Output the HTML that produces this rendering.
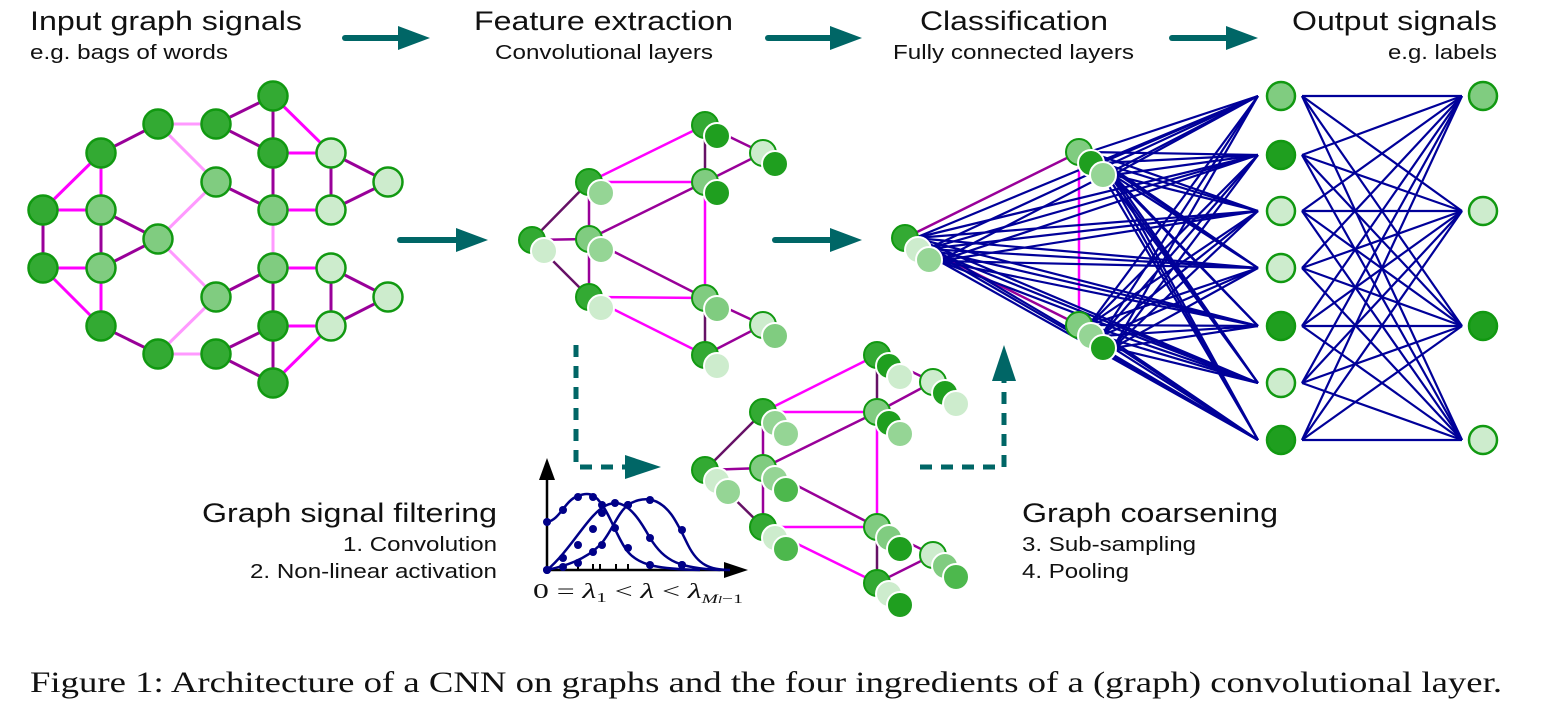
<!DOCTYPE html>
<html><head><meta charset="utf-8"><style>
html,body{margin:0;padding:0;background:#fff;}
svg{display:block;}
text{font-family:"Liberation Sans",sans-serif;fill:#111;}
</style></head><body>
<svg id="s" width="1557" height="704" viewBox="0 0 1557 704" xmlns="http://www.w3.org/2000/svg">
<defs>
<marker id="ah" markerWidth="10" markerHeight="10" refX="0" refY="5" orient="auto" markerUnits="userSpaceOnUse"></marker>
</defs>
<g id="edges"></g>
<g id="nodes"></g>
<g id="arrows" fill="#006666" stroke="#006666"></g>
<g id="chart"></g>
<text x="30" y="30" font-size="27" textLength="272" lengthAdjust="spacingAndGlyphs">Input graph signals</text>
<text x="30" y="59" font-size="20" textLength="198" lengthAdjust="spacingAndGlyphs">e.g. bags of words</text>
<text x="474" y="30" font-size="27" textLength="259" lengthAdjust="spacingAndGlyphs">Feature extraction</text>
<text x="495" y="59" font-size="20" textLength="218" lengthAdjust="spacingAndGlyphs">Convolutional layers</text>
<text x="920" y="30" font-size="27" textLength="188" lengthAdjust="spacingAndGlyphs">Classification</text>
<text x="893" y="59" font-size="20" textLength="241" lengthAdjust="spacingAndGlyphs">Fully connected layers</text>
<text x="1292" y="30" font-size="27" textLength="205" lengthAdjust="spacingAndGlyphs">Output signals</text>
<text x="1388" y="59" font-size="20" textLength="109" lengthAdjust="spacingAndGlyphs">e.g. labels</text>
<text x="202" y="522" font-size="27" textLength="295" lengthAdjust="spacingAndGlyphs">Graph signal filtering</text>
<text x="343" y="551" font-size="20" textLength="154" lengthAdjust="spacingAndGlyphs">1. Convolution</text>
<text x="250" y="578" font-size="20" textLength="247" lengthAdjust="spacingAndGlyphs">2. Non-linear activation</text>
<text x="1022" y="522" font-size="27" textLength="256" lengthAdjust="spacingAndGlyphs">Graph coarsening</text>
<text x="1022" y="551" font-size="20" textLength="174" lengthAdjust="spacingAndGlyphs">3. Sub-sampling</text>
<text x="1022" y="578" font-size="20" textLength="107" lengthAdjust="spacingAndGlyphs">4. Pooling</text>
<text x="533" y="598" font-size="21" style="font-family:'Liberation Serif',serif" font-style="italic" textLength="210" lengthAdjust="spacingAndGlyphs"><tspan font-style="normal">0 = </tspan>λ<tspan font-size="14" font-style="normal" dy="4">1</tspan><tspan dy="-4" font-style="normal"> &lt; </tspan>λ<tspan font-style="normal"> &lt; </tspan>λ<tspan font-size="13" dy="5">M<tspan font-size="10">l</tspan><tspan font-style="normal">−1</tspan></tspan></text>
<text x="30" y="692" font-size="30" style="font-family:'Liberation Serif',serif" textLength="1472" lengthAdjust="spacingAndGlyphs">Figure 1: Architecture of a CNN on graphs and the four ingredients of a (graph) convolutional layer.</text>
</svg>
<script>
var NS="http://www.w3.org/2000/svg";
function el(p,t,a){var e=document.createElementNS(NS,t);for(var k in a)e.setAttribute(k,a[k]);document.getElementById(p).appendChild(e);return e;}
var DK="#33aa33",MD="#80cc80",LT="#cdeccd",DD="#1f9f1f",M2="#95d595",M3="#4db84d";
var MAG="#ff00ff",PUR="#990099",PNK="#ff99ff",DPU="#661166";
function line(x1,y1,x2,y2,c,w){el("edges","line",{x1:x1,y1:y1,x2:x2,y2:y2,stroke:c,"stroke-width":w||3});}
// input graph
var N={A:[43,210,DK],B:[43,268,DK],C:[101,153,DK],D:[101,210,MD],E:[101,268,MD],F:[101,326,DK],G:[158,124,DK],H:[158,239,MD],I:[158,354,DK],J:[216,124,DK],K:[216,182,MD],L:[216,297,MD],M:[216,354,DK],NN:[273,96,DK],O:[273,153,DK],P:[273,210,MD],Q:[273,268,MD],R:[273,326,DK],S:[273,383,DK],T:[331,153,LT],U:[331,210,LT],V:[388,182,LT],W:[331,268,LT],X:[331,326,LT],Y:[388,297,LT]};
var E=[["A","C",MAG],["A","D",MAG],["A","B",PUR],["B","E",MAG],["B","F",MAG],["C","D",MAG],["C","G",PUR],["D","E",PUR],["D","H",PUR],["E","H",PUR],["E","F",MAG],["F","I",PUR],["G","J",PNK],["G","K",PNK],["H","K",PNK],["H","L",PNK],["I","M",PNK],["I","L",PNK],["J","NN",PUR],["J","O",PUR],["NN","O",PUR],["NN","T",MAG],["O","T",MAG],["O","P",PUR],["K","P",PUR],["P","U",MAG],["T","U",PUR],["T","V",PUR],["U","V",PUR],["P","Q",PNK],["Q","L",PUR],["Q","W",MAG],["Q","R",PUR],["W","Y",PUR],["W","X",PUR],["X","Y",PUR],["R","X",MAG],["R","M",PUR],["R","S",PUR],["M","S",PUR],["S","X",MAG]];
E.forEach(function(e){var a=N[e[0]],b=N[e[1]];line(a[0],a[1],b[0],b[1],e[2],3);});
for(var k in N){var n=N[k];el("nodes","circle",{cx:n[0],cy:n[1],r:14.5,fill:n[2],stroke:"#119911","stroke-width":2.5});}
// multi nodes
function multi(x,y,cols,offs){cols.forEach(function(c,i){var o=offs[i];el("nodes","circle",{cx:x+o[0],cy:y+o[1],r:13,fill:c,stroke:i==0?"#119911":"#fff","stroke-width":2});});}
var O2=[[0,0],[12,11]];
var F={a:[532,240,[DK,LT]],b:[589,182,[DK,M2]],c:[589,239,[MD,M2]],d:[589,297,[DK,LT]],e:[705,125,[DK,DD]],f:[705,182,[MD,DD]],g:[705,298,[MD,MD]],h:[705,355,[DK,LT]],i:[763,153,[LT,DD]],j:[763,325,[LT,MD]]};
var FE=[["a","b",DPU],["a","c",PUR],["a","d",DPU],["b","c",PUR],["c","d",PUR],["b","e",MAG],["b","f",MAG],["c","f",PUR],["c","g",PUR],["d","g",MAG],["d","h",MAG],["e","f",DPU],["f","g",MAG],["e","i",PUR],["f","i",PUR],["g","h",DPU],["g","j",PUR],["h","j",PUR]];
FE.forEach(function(e){var a=F[e[0]],b=F[e[1]];line(a[0],a[1],b[0],b[1],e[2],2.5);});
for(var k in F){var n=F[k];multi(n[0],n[1],n[2],O2);}
var O3=[[0,0],[12,11],[23,22]];
var G={p:[705,470,[DK,LT,M2]],q:[763,412,[DK,M2,M2]],r:[763,468,[MD,M2,M3]],s:[763,527,[DK,LT,M3]],t:[877,355,[DK,DD,LT]],u:[877,412,[MD,DD,M2]],v:[877,527,[MD,MD,DD]],w:[877,583,[DK,LT,DD]],x:[933,382,[LT,DD,LT]],y:[933,555,[LT,MD,M3]]};
var GE=[["p","q",DPU],["p","r",PUR],["p","s",DPU],["q","r",PUR],["r","s",PUR],["q","t",MAG],["q","u",MAG],["r","u",PUR],["r","v",PUR],["s","v",MAG],["s","w",MAG],["t","u",DPU],["u","v",MAG],["t","x",PUR],["u","x",PUR],["v","w",DPU],["v","y",PUR],["w","y",PUR]];
GE.forEach(function(e){var a=G[e[0]],b=G[e[1]];line(a[0],a[1],b[0],b[1],e[2],2.5);});
// classification
var C0=[905,238],C1=[1079,152],C2=[1079,325];
line(C0[0],C0[1],C1[0],C1[1],PUR,2.5);line(C0[0],C0[1],C2[0],C2[1],PUR,2.5);line(C1[0],C1[1],C2[0],C2[1],MAG,2.5);
var Y1=[96,155,211,268,326,383,440],Y2=[96,211,326,440];
var OC=[[0,0],[12,11],[24,23]];
[C0,C1,C2].forEach(function(c){OC.forEach(function(o){Y1.forEach(function(y){line(c[0]+o[0]+10,c[1]+o[1],1258,y,"#000099",2.2);});});});
Y1.forEach(function(y){Y2.forEach(function(y2){line(1302,y,1462,y2,"#000099",2.2);});});
for(var k in G){var n=G[k];multi(n[0],n[1],n[2],O3);}
multi(905,238,[DK,LT,M2],[[0,0],[13,12],[24,22]]);
multi(1079,152,[MD,DD,M2],[[0,0],[12,11],[24,23]]);
multi(1079,325,[MD,M2,DD],[[0,0],[12,11],[24,23]]);
var C1c=[MD,DD,LT,LT,DD,LT,DD],C2c=[MD,LT,DD,LT];
Y1.forEach(function(y,i){el("nodes","circle",{cx:1281,cy:y,r:14,fill:C1c[i],stroke:"#119911","stroke-width":2.5});});
Y2.forEach(function(y,i){el("nodes","circle",{cx:1483,cy:y,r:14,fill:C2c[i],stroke:"#119911","stroke-width":2.5});});
// arrows
function arrow(x1,y,x2){el("arrows","line",{x1:x1,y1:y,x2:x2-30,y2:y,"stroke-width":6,"stroke-linecap":"round"});el("arrows","polygon",{points:(x2-32)+","+(y-12)+" "+x2+","+y+" "+(x2-32)+","+(y+12),stroke:"none"});}
arrow(345,38,430);arrow(768,38,862);arrow(1172,38,1258);arrow(400,240,488);arrow(775,240,862);
el("arrows","polyline",{points:"576,345 576,467 628,467",fill:"none","stroke-width":5,"stroke-dasharray":"12,9"});
el("arrows","polygon",{points:"625,455 661,467 625,479",stroke:"none"});
el("arrows","polyline",{points:"920,467 1004,467 1004,378",fill:"none","stroke-width":5,"stroke-dasharray":"12,9"});
el("arrows","polygon",{points:"992,381 1004,345 1016,381",stroke:"none"});
// chart
el("chart","line",{x1:547,y1:570,x2:547,y2:478,stroke:"#000","stroke-width":2.5});
el("chart","polygon",{points:"539,480 547,458 555,480",fill:"#000"});
el("chart","line",{x1:547,y1:570,x2:728,y2:570,stroke:"#000","stroke-width":2.5});
el("chart","polygon",{points:"724,562 748,570 724,578",fill:"#000"});
[563,578,593,600,616,628,650,682].forEach(function(x){el("chart","line",{x1:x,y1:564,x2:x,y2:570,stroke:"#000","stroke-width":2});});
var B="#000088";
var curves=[
 {d:"M547,522 C560,520 565,500 578,496 C588,492 594,494 600,502 C610,514 618,540 628,552 C640,566 660,569 700,570",pts:[[547,522],[563,510],[578,497],[593,497],[602,505],[628,548],[650,565]]},
 {d:"M547,570 C565,555 580,530 593,516 C603,505 610,503 617,503 C630,505 640,520 650,538 C665,562 680,568 720,570",pts:[[547,570],[563,558],[578,545],[593,529],[602,513],[615,503],[628,505],[650,538],[682,565]]},
 {d:"M547,570 C565,566 585,560 600,545 C610,535 618,512 628,505 C638,498 648,499 652,500 C670,505 678,525 688,545 C698,565 710,570 730,570",pts:[[547,570],[563,567],[578,563],[593,552],[602,545],[615,528],[628,505],[650,500],[682,530],[682,565]]}
];
curves.forEach(function(c){el("chart","path",{d:c.d,fill:"none",stroke:B,"stroke-width":2.5});c.pts.forEach(function(p){el("chart","circle",{cx:p[0],cy:p[1],r:4,fill:B});});});
</script>
</body></html>
